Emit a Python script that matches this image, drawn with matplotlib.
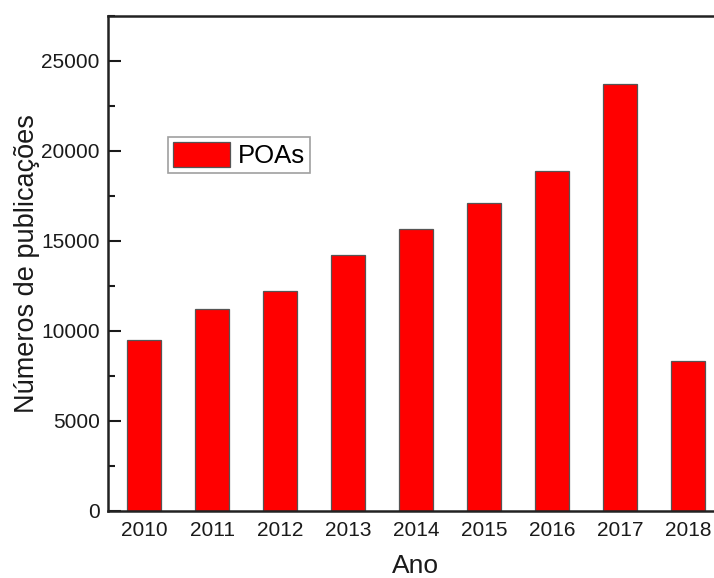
import matplotlib
matplotlib.use("Agg")
import matplotlib.pyplot as plt
from matplotlib.ticker import MultipleLocator

anos = [2010, 2011, 2012, 2013, 2014, 2015, 2016, 2017, 2018]
publicacoes = [9500, 11220, 12240, 14220, 15650, 17130, 18900, 23720, 8330]
serie = "POAs"

plt.rcParams['font.family'] = ['Liberation Sans', 'DejaVu Sans']

W, H = 714, 578
fig = plt.figure(figsize=(W / 100, H / 100), dpi=100)
x0, x1, y0, y1 = 108, 722, 16, 511
ax = fig.add_axes([x0 / W, 1 - y1 / H, (x1 - x0) / W, (y1 - y0) / H])

ax.bar(anos, publicacoes, width=0.5, color='#ff0000', edgecolor='#555555',
       linewidth=0.9, label=serie, zorder=2)

ax.set_xlim(2009.47, 2018.5)
ax.set_ylim(0, 27500)
ax.set_xticks(anos)
ax.yaxis.set_major_locator(MultipleLocator(5000))
ax.yaxis.set_minor_locator(MultipleLocator(2500))

ax.tick_params(axis='both', which='both', direction='in', labelsize=15,
               colors='#1a1a1a', width=1.5)
ax.tick_params(axis='both', which='major', length=9)
ax.tick_params(axis='y', which='major', pad=6)
ax.tick_params(axis='x', which='major', pad=7)
ax.tick_params(axis='y', which='minor', length=5)
ax.tick_params(axis='x', which='minor', bottom=False)

for s in ax.spines.values():
    s.set_linewidth(1.8)
    s.set_color('#222222')

ax.set_xlabel("Ano", fontsize=19, color='#1a1a1a', labelpad=10.5)
ax.set_ylabel("Números de publicações", fontsize=19.5, color='#1a1a1a', labelpad=1)

leg = ax.legend(loc='upper left', bbox_to_anchor=((168 - x0) / (x1 - x0), 1 - (137 - y0) / (y1 - y0)),
                fontsize=18.5, frameon=True, fancybox=False, handlelength=2.2,
                handleheight=1.1, handletextpad=0.3, borderpad=0.2, borderaxespad=0)
leg.get_frame().set_edgecolor('#888888')
leg.get_frame().set_linewidth(1.2)

fig.savefig("out.png", dpi=100)
